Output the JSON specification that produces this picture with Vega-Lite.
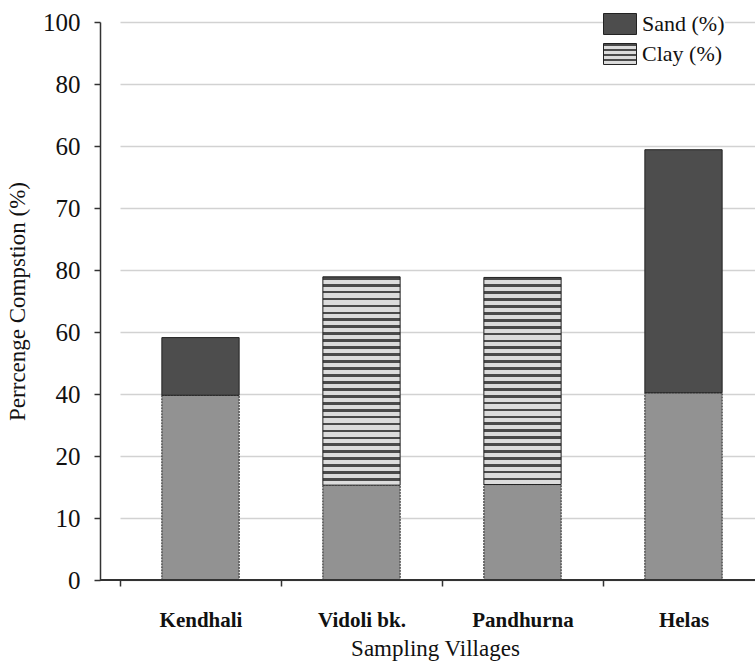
{
  "$schema": "https://vega.github.io/schema/vega-lite/v6.json",
  "width": 655,
  "height": 558,
  "autosize": "none",
  "padding": {"left": 100, "top": 22, "right": 0, "bottom": 82},
  "background": "white",
  "config": {
    "view": {"stroke": null},
    "font": "Liberation Serif",
    "axis": {"labelFont": "Liberation Serif", "titleFont": "Liberation Serif", "labelColor": "#111", "titleColor": "#111"},
    "legend": {"labelFont": "Liberation Serif"}
  },
  "data": {
    "values": [
      {"village": "Kendhali", "component": "Silt (%)", "value": 29.8},
      {"village": "Kendhali", "component": "Sand (%)", "value": 9.3},
      {"village": "Vidoli bk.", "component": "Silt (%)", "value": 15.3},
      {"village": "Vidoli bk.", "component": "Clay (%)", "value": 33.6},
      {"village": "Pandhurna", "component": "Silt (%)", "value": 15.4},
      {"village": "Pandhurna", "component": "Clay (%)", "value": 33.4},
      {"village": "Helas", "component": "Silt (%)", "value": 30.2},
      {"village": "Helas", "component": "Sand (%)", "value": 39.2}
    ]
  },
  "transform": [
    {"stack": "value", "groupby": ["village"], "sort": [{"field": "component", "order": "descending"}], "as": ["v0", "v1"]}
  ],
  "layer": [
    {
      "transform": [{"filter": "datum.component === 'Silt (%)'"}],
      "mark": {"type": "bar", "width": {"band": 0.48}, "fill": "#929292", "stroke": "#222", "strokeWidth": 1, "strokeDash": [2, 1]},
      "encoding": {
        "x": {
          "field": "village", "type": "nominal", "sort": ["Kendhali", "Vidoli bk.", "Pandhurna", "Helas"],
          "scale": {"range": [20, 664], "paddingInner": 0, "paddingOuter": 0},
          "axis": {
            "title": "Sampling Villages", "titleFontSize": 23, "titleFontWeight": "normal", "titleFont": "Liberation Serif",
            "titleX": 335, "titleY": 75, "titleBaseline": "alphabetic", "titleAlign": "center",
            "labelFontSize": 21, "labelFontWeight": "bold", "labelFont": "Liberation Serif", "labelAngle": 0, "labelPadding": 23,
            "tickBand": "extent", "tickSize": 6, "tickColor": "#333", "tickWidth": 1.5,
            "domain": false, "grid": false
          }
        },
        "y": {
          "field": "v0", "type": "quantitative",
          "scale": {"domain": [0, 90], "nice": false, "zero": true},
          "axis": {
            "title": "Perrcenge Compstion (%)", "titleFontSize": 23, "titleFontWeight": "normal", "titleFont": "Liberation Serif",
            "titleX": -76, "titleY": 279, "titleAngle": 270, "titleBaseline": "alphabetic", "titleAlign": "center",
            "values": [0, 10, 20, 30, 40, 50, 60, 70, 80, 90],
            "labelExpr": "['0','10','20','40','60','80','70','60','80','100'][round(datum.value/10)]",
            "labelFontSize": 25, "labelFont": "Liberation Serif", "labelPadding": 14, "tickSize": 6, "tickColor": "#333", "tickWidth": 1.5,
            "domainColor": "#333", "domainWidth": 1.5,
            "grid": true, "gridColor": "#d2d2d2", "gridWidth": 1.5
          }
        },
        "y2": {"field": "v1"}
      }
    },
    {
      "transform": [{"filter": "datum.component === 'Clay (%)'"}],
      "mark": {
        "type": "bar", "width": {"band": 0.48}, "stroke": "#222", "strokeWidth": 1,
        "fill": {
          "gradient": "linear", "x1": 0, "y1": 0, "x2": 0, "y2": 1,
          "stops": [
            {"offset": 0, "color": "#4a4a4a"}, {"offset": 0.0133, "color": "#4a4a4a"}, {"offset": 0.0133, "color": "#dcdcdc"}, {"offset": 0.0333, "color": "#dcdcdc"},
            {"offset": 0.0333, "color": "#4a4a4a"}, {"offset": 0.0467, "color": "#4a4a4a"}, {"offset": 0.0467, "color": "#dcdcdc"}, {"offset": 0.0667, "color": "#dcdcdc"},
            {"offset": 0.0667, "color": "#4a4a4a"}, {"offset": 0.08, "color": "#4a4a4a"}, {"offset": 0.08, "color": "#dcdcdc"}, {"offset": 0.1, "color": "#dcdcdc"},
            {"offset": 0.1, "color": "#4a4a4a"}, {"offset": 0.1133, "color": "#4a4a4a"}, {"offset": 0.1133, "color": "#dcdcdc"}, {"offset": 0.1333, "color": "#dcdcdc"},
            {"offset": 0.1333, "color": "#4a4a4a"}, {"offset": 0.1467, "color": "#4a4a4a"}, {"offset": 0.1467, "color": "#dcdcdc"}, {"offset": 0.1667, "color": "#dcdcdc"},
            {"offset": 0.1667, "color": "#4a4a4a"}, {"offset": 0.18, "color": "#4a4a4a"}, {"offset": 0.18, "color": "#dcdcdc"}, {"offset": 0.2, "color": "#dcdcdc"},
            {"offset": 0.2, "color": "#4a4a4a"}, {"offset": 0.2133, "color": "#4a4a4a"}, {"offset": 0.2133, "color": "#dcdcdc"}, {"offset": 0.2333, "color": "#dcdcdc"},
            {"offset": 0.2333, "color": "#4a4a4a"}, {"offset": 0.2467, "color": "#4a4a4a"}, {"offset": 0.2467, "color": "#dcdcdc"}, {"offset": 0.2667, "color": "#dcdcdc"},
            {"offset": 0.2667, "color": "#4a4a4a"}, {"offset": 0.28, "color": "#4a4a4a"}, {"offset": 0.28, "color": "#dcdcdc"}, {"offset": 0.3, "color": "#dcdcdc"},
            {"offset": 0.3, "color": "#4a4a4a"}, {"offset": 0.3133, "color": "#4a4a4a"}, {"offset": 0.3133, "color": "#dcdcdc"}, {"offset": 0.3333, "color": "#dcdcdc"},
            {"offset": 0.3333, "color": "#4a4a4a"}, {"offset": 0.3467, "color": "#4a4a4a"}, {"offset": 0.3467, "color": "#dcdcdc"}, {"offset": 0.3667, "color": "#dcdcdc"},
            {"offset": 0.3667, "color": "#4a4a4a"}, {"offset": 0.38, "color": "#4a4a4a"}, {"offset": 0.38, "color": "#dcdcdc"}, {"offset": 0.4, "color": "#dcdcdc"},
            {"offset": 0.4, "color": "#4a4a4a"}, {"offset": 0.4133, "color": "#4a4a4a"}, {"offset": 0.4133, "color": "#dcdcdc"}, {"offset": 0.4333, "color": "#dcdcdc"},
            {"offset": 0.4333, "color": "#4a4a4a"}, {"offset": 0.4467, "color": "#4a4a4a"}, {"offset": 0.4467, "color": "#dcdcdc"}, {"offset": 0.4667, "color": "#dcdcdc"},
            {"offset": 0.4667, "color": "#4a4a4a"}, {"offset": 0.48, "color": "#4a4a4a"}, {"offset": 0.48, "color": "#dcdcdc"}, {"offset": 0.5, "color": "#dcdcdc"},
            {"offset": 0.5, "color": "#4a4a4a"}, {"offset": 0.5133, "color": "#4a4a4a"}, {"offset": 0.5133, "color": "#dcdcdc"}, {"offset": 0.5333, "color": "#dcdcdc"},
            {"offset": 0.5333, "color": "#4a4a4a"}, {"offset": 0.5467, "color": "#4a4a4a"}, {"offset": 0.5467, "color": "#dcdcdc"}, {"offset": 0.5667, "color": "#dcdcdc"},
            {"offset": 0.5667, "color": "#4a4a4a"}, {"offset": 0.58, "color": "#4a4a4a"}, {"offset": 0.58, "color": "#dcdcdc"}, {"offset": 0.6, "color": "#dcdcdc"},
            {"offset": 0.6, "color": "#4a4a4a"}, {"offset": 0.6133, "color": "#4a4a4a"}, {"offset": 0.6133, "color": "#dcdcdc"}, {"offset": 0.6333, "color": "#dcdcdc"},
            {"offset": 0.6333, "color": "#4a4a4a"}, {"offset": 0.6467, "color": "#4a4a4a"}, {"offset": 0.6467, "color": "#dcdcdc"}, {"offset": 0.6667, "color": "#dcdcdc"},
            {"offset": 0.6667, "color": "#4a4a4a"}, {"offset": 0.68, "color": "#4a4a4a"}, {"offset": 0.68, "color": "#dcdcdc"}, {"offset": 0.7, "color": "#dcdcdc"},
            {"offset": 0.7, "color": "#4a4a4a"}, {"offset": 0.7133, "color": "#4a4a4a"}, {"offset": 0.7133, "color": "#dcdcdc"}, {"offset": 0.7333, "color": "#dcdcdc"},
            {"offset": 0.7333, "color": "#4a4a4a"}, {"offset": 0.7467, "color": "#4a4a4a"}, {"offset": 0.7467, "color": "#dcdcdc"}, {"offset": 0.7667, "color": "#dcdcdc"},
            {"offset": 0.7667, "color": "#4a4a4a"}, {"offset": 0.78, "color": "#4a4a4a"}, {"offset": 0.78, "color": "#dcdcdc"}, {"offset": 0.8, "color": "#dcdcdc"},
            {"offset": 0.8, "color": "#4a4a4a"}, {"offset": 0.8133, "color": "#4a4a4a"}, {"offset": 0.8133, "color": "#dcdcdc"}, {"offset": 0.8333, "color": "#dcdcdc"},
            {"offset": 0.8333, "color": "#4a4a4a"}, {"offset": 0.8467, "color": "#4a4a4a"}, {"offset": 0.8467, "color": "#dcdcdc"}, {"offset": 0.8667, "color": "#dcdcdc"},
            {"offset": 0.8667, "color": "#4a4a4a"}, {"offset": 0.88, "color": "#4a4a4a"}, {"offset": 0.88, "color": "#dcdcdc"}, {"offset": 0.9, "color": "#dcdcdc"},
            {"offset": 0.9, "color": "#4a4a4a"}, {"offset": 0.9133, "color": "#4a4a4a"}, {"offset": 0.9133, "color": "#dcdcdc"}, {"offset": 0.9333, "color": "#dcdcdc"},
            {"offset": 0.9333, "color": "#4a4a4a"}, {"offset": 0.9467, "color": "#4a4a4a"}, {"offset": 0.9467, "color": "#dcdcdc"}, {"offset": 0.9667, "color": "#dcdcdc"},
            {"offset": 0.9667, "color": "#4a4a4a"}, {"offset": 0.98, "color": "#4a4a4a"}, {"offset": 0.98, "color": "#dcdcdc"}, {"offset": 1, "color": "#dcdcdc"}
          ]
        }
      },
      "encoding": {
        "x": {"field": "village", "type": "nominal", "sort": ["Kendhali", "Vidoli bk.", "Pandhurna", "Helas"]},
        "y": {"field": "v0", "type": "quantitative"},
        "y2": {"field": "v1"}
      }
    },
    {
      "transform": [{"filter": "datum.component === 'Sand (%)'"}],
      "mark": {"type": "bar", "width": {"band": 0.48}, "stroke": "#222", "strokeWidth": 1},
      "encoding": {
        "x": {"field": "village", "type": "nominal", "sort": ["Kendhali", "Vidoli bk.", "Pandhurna", "Helas"]},
        "y": {"field": "v0", "type": "quantitative"},
        "y2": {"field": "v1"},
        "color": {
          "field": "component", "type": "nominal",
          "scale": {
            "domain": ["Sand (%)", "Clay (%)"],
            "range": ["#4d4d4d", {"expr": "{gradient:'linear',x1:0,y1:0,x2:0,y2:1,stops:[{offset:0,color:'#4a4a4a'},{offset:0.1,color:'#4a4a4a'},{offset:0.1,color:'#dcdcdc'},{offset:0.25,color:'#dcdcdc'},{offset:0.25,color:'#4a4a4a'},{offset:0.35,color:'#4a4a4a'},{offset:0.35,color:'#dcdcdc'},{offset:0.5,color:'#dcdcdc'},{offset:0.5,color:'#4a4a4a'},{offset:0.6,color:'#4a4a4a'},{offset:0.6,color:'#dcdcdc'},{offset:0.75,color:'#dcdcdc'},{offset:0.75,color:'#4a4a4a'},{offset:0.85,color:'#4a4a4a'},{offset:0.85,color:'#dcdcdc'},{offset:1,color:'#dcdcdc'}]}"}]
          },
          "legend": {
            "title": null, "orient": "none", "legendX": 503, "legendY": -15,
            "symbolType": "M-1,-0.636H1V0.636H-1Z", "symbolSize": 1089,
            "symbolStrokeColor": "#222", "symbolStrokeWidth": 1,
            "labelFontSize": 22, "labelFont": "Liberation Serif", "labelColor": "#111", "labelOffset": 5, "rowPadding": -8,
            "fillColor": "white", "padding": 0
          }
        }
      }
    },
    {
      "mark": {"type": "rule", "color": "#333", "strokeWidth": 1.5},
      "encoding": {"y": {"datum": 0}}
    }
  ]
}
